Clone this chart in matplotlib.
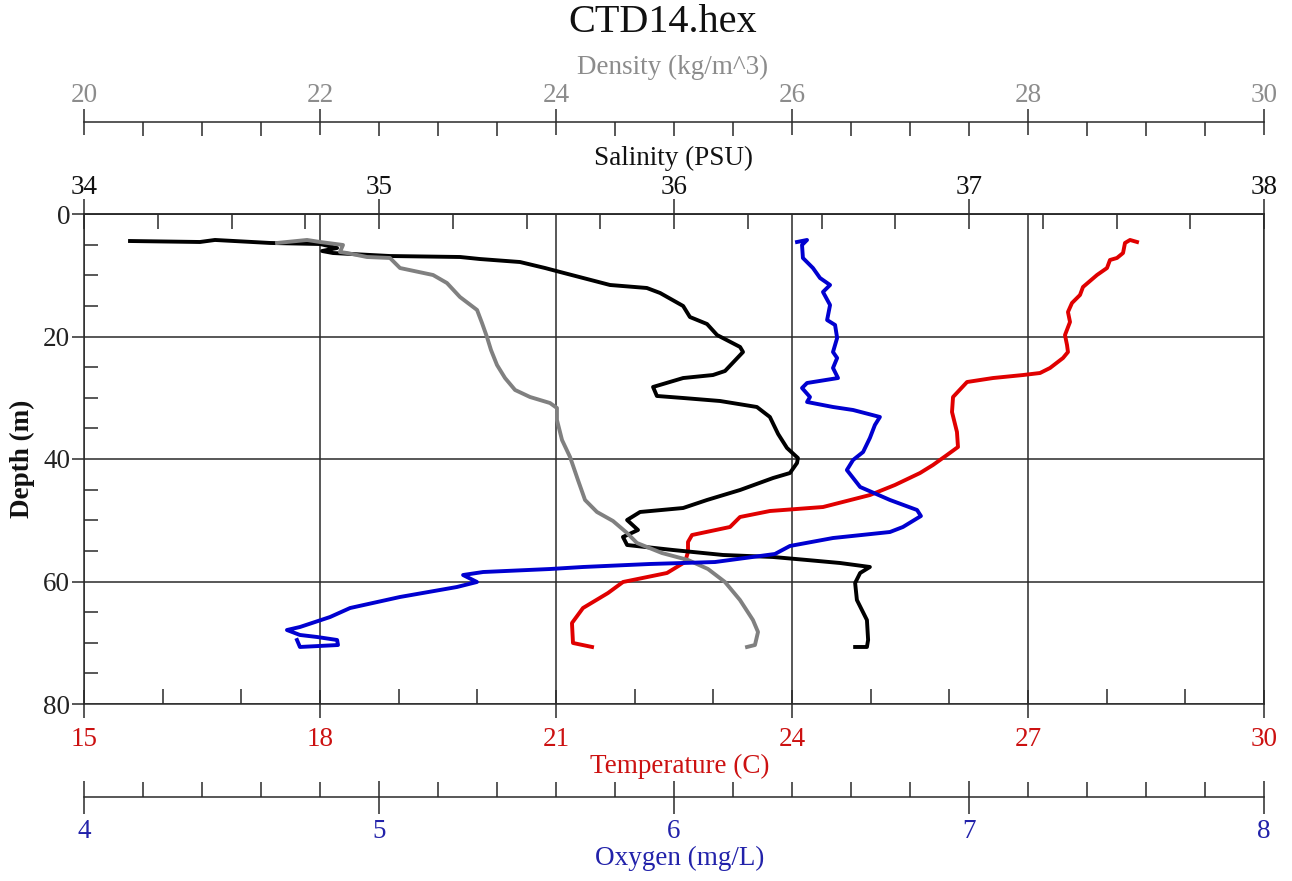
import matplotlib
matplotlib.use("Agg")
import matplotlib.pyplot as plt
from matplotlib.ticker import MultipleLocator

plt.rcParams['font.family'] = ['Liberation Serif', 'DejaVu Serif']

# ---------------- data ----------------
sal_depth = [4.41, 4.57, 4.24, 4.73, 4.90, 5.55, 6.04, 6.37, 6.86, 7.02, 7.35, 7.84, 8.82, 9.47,
             11.59, 12.08, 12.90, 15.02, 16.82, 17.96, 19.76, 21.71, 22.53, 25.63, 26.29, 26.78,
             28.24, 29.71, 30.04, 30.53, 31.51, 33.14, 35.92, 38.20, 39.84, 40.65, 42.29, 43.10,
             45.06, 46.69, 48.00, 48.65, 49.96, 51.59, 52.73, 54.04, 54.86, 55.67, 56.00, 56.49,
             56.98, 57.63, 58.61, 60.24, 63.02, 66.29, 69.55, 70.69, 70.69]
salinity = [34.156, 34.393, 34.444, 34.631, 34.800, 34.858, 34.807, 34.844, 35.037, 35.275, 35.342,
            35.478, 35.563, 35.614, 35.783, 35.908, 35.953, 36.031, 36.054, 36.112, 36.146, 36.224,
            36.234, 36.173, 36.132, 36.031, 35.929, 35.942, 36.031, 36.156, 36.281, 36.325, 36.353,
            36.383, 36.420, 36.417, 36.393, 36.336, 36.224, 36.112, 36.031, 35.885, 35.841, 35.878,
            35.827, 35.841, 35.997, 36.166, 36.336, 36.451, 36.563, 36.664, 36.631, 36.614, 36.620,
            36.654, 36.658, 36.654, 36.614]

den_depth = [4.73, 4.24, 4.57, 5.06, 6.20, 6.37, 7.02, 7.18, 8.82, 9.96, 11.27, 13.55, 15.67, 17.80,
             20.08, 22.20, 24.65, 26.78, 28.73, 29.88, 30.86, 31.67, 33.63, 36.90, 39.67, 43.43,
             46.69, 48.65, 50.12, 52.08, 53.71, 55.35, 56.49, 57.96, 60.08, 63.02, 66.29, 68.24,
             70.37, 70.69]
density = [21.636, 21.890, 22.000, 22.195, 22.169, 22.229, 22.398, 22.593, 22.678, 22.958, 23.076,
           23.186, 23.331, 23.373, 23.415, 23.449, 23.500, 23.568, 23.653, 23.780, 23.949, 24.008,
           24.008, 24.051, 24.119, 24.186, 24.246, 24.347, 24.483, 24.602, 24.686, 24.898, 25.119,
           25.288, 25.432, 25.559, 25.669, 25.712, 25.686, 25.619]

oxy_depth = [4.57, 4.24, 5.06, 7.18, 8.82, 10.45, 11.59, 12.73, 14.86, 17.31, 18.12, 20.24, 22.53,
             23.51, 25.14, 26.78, 27.59, 28.41, 29.88, 30.69, 31.51, 32.00, 33.14, 34.45, 36.57,
             38.86, 40.16, 41.80, 44.57, 46.69, 48.33, 49.31, 51.10, 51.92, 52.90, 54.20, 55.51,
             56.82, 57.14, 57.63, 57.96, 58.45, 58.94, 60.08, 60.90, 62.53, 64.33, 65.80, 67.43,
             67.92, 68.73, 69.06, 69.55, 70.37, 70.69, 69.55]
oxygen = [6.417, 6.451, 6.434, 6.437, 6.471, 6.495, 6.529, 6.505, 6.529, 6.519, 6.546, 6.553, 6.539,
          6.553, 6.539, 6.556, 6.451, 6.434, 6.461, 6.451, 6.539, 6.607, 6.698, 6.681, 6.664, 6.641,
          6.607, 6.586, 6.631, 6.732, 6.824, 6.837, 6.776, 6.732, 6.539, 6.393, 6.342, 6.139, 5.919,
          5.692, 5.580, 5.353, 5.285, 5.332, 5.264, 5.071, 4.902, 4.834, 4.732, 4.688, 4.732, 4.790,
          4.858, 4.861, 4.732, 4.722]

temp_depth = [4.57, 4.24, 4.73, 6.37, 7.18, 7.51, 8.82, 9.96, 11.92, 13.22, 14.53, 16.00, 17.63,
              19.76, 21.39, 22.53, 23.51, 25.14, 25.96, 26.29, 26.78, 27.43, 29.88, 32.33, 35.59,
              38.04, 39.35, 40.98, 42.29, 44.24, 45.88, 47.84, 48.49, 49.47, 51.10, 52.41, 53.55,
              55.18, 56.82, 58.61, 60.08, 61.88, 64.33, 66.78, 70.04, 70.69]
temperature = [28.386, 28.297, 28.233, 28.208, 28.131, 28.042, 28.004, 27.877, 27.699, 27.661,
               27.559, 27.508, 27.534, 27.470, 27.496, 27.508, 27.445, 27.280, 27.153, 26.936,
               26.555, 26.225, 26.047, 26.034, 26.097, 26.110, 25.970, 25.792, 25.627, 25.309,
               24.992, 24.394, 23.720, 23.339, 23.212, 22.729, 22.678, 22.678, 22.640, 22.411,
               21.852, 21.661, 21.343, 21.203, 21.216, 21.458]

title = "CTD14.hex"

# ---------------- layout ----------------
W, H = 1292, 881
L, R, T, B = 84, 1264, 214, 704
fig = plt.figure(figsize=(W / 100, H / 100), dpi=100)
ax = fig.add_axes([L / W, (H - B) / H, (R - L) / W, (B - T) / H])
AH = B - T
px = 0.72  # points per pixel

FS = 19.5
spine_c = '#2a2a2a'
grid_c = '#2a2a2a'
c_den = '#8c8c8c'
c_temp_txt = '#cc1111'
c_oxy_txt = '#2222aa'
lw = 2.8

# main axes: temperature (bottom) and depth (left)
ax.set_xlim(15, 30)
ax.set_ylim(80, 0)
ax.xaxis.set_major_locator(MultipleLocator(3))
ax.xaxis.set_minor_locator(MultipleLocator(1))
ax.yaxis.set_major_locator(MultipleLocator(20))
ax.yaxis.set_minor_locator(MultipleLocator(5))
ax.grid(True, which='major', color=grid_c, lw=1.1)
ax.set_axisbelow(True)
for s in ax.spines.values():
    s.set_color(spine_c)
    s.set_linewidth(1.1)
ax.tick_params(axis='x', which='major', direction='inout', length=28 * px, width=1.1,
               colors=spine_c, labelcolor=c_temp_txt, labelsize=FS, pad=9 * px)
ax.tick_params(axis='x', which='minor', direction='in', length=15 * px, width=1.1, colors=spine_c)
ax.tick_params(axis='y', which='major', direction='out', length=12 * px, width=1.1,
               colors=spine_c, labelcolor='#222222', labelsize=FS, pad=2 * px)
ax.tick_params(axis='y', which='minor', direction='in', length=14 * px, width=1.1, colors=spine_c)
ax.plot(temperature, temp_depth, color='#e00000', lw=lw, zorder=3)
ax.set_xlabel('Temperature (C)', fontsize=FS, color=c_temp_txt)
ax.xaxis.set_label_coords((680 - L) / (R - L), (B - 766) / AH)
ax.xaxis.label.set_va('center')
ax.set_ylabel('Depth (m)', fontsize=FS, color='#111111', fontweight='bold')
ax.yaxis.set_label_coords((22 - L) / (R - L), 0.5)
ax.yaxis.label.set_va('center')


def make_twin(pos_px, side):
    t = ax.twiny()
    for k, s in t.spines.items():
        s.set_visible(False)
    sp = t.spines[side]
    sp.set_visible(True)
    sp.set_color(spine_c)
    sp.set_linewidth(1.1)
    if side == 'top':
        sp.set_position(('axes', (B - pos_px) / AH))
        t.xaxis.set_ticks_position('top')
        t.xaxis.set_label_position('top')
    else:
        sp.set_position(('axes', (B - pos_px) / AH))
        t.xaxis.set_ticks_position('bottom')
        t.xaxis.set_label_position('bottom')
    return t


# salinity (top spine of plot)
ax_s = make_twin(T, 'top')
ax_s.set_xlim(34, 38)
ax_s.xaxis.set_major_locator(MultipleLocator(1))
ax_s.xaxis.set_minor_locator(MultipleLocator(0.25))
ax_s.tick_params(axis='x', which='major', direction='inout', length=30 * px, width=1.1,
                 colors=spine_c, labelcolor='#111111', labelsize=FS, pad=-1 * px)
ax_s.tick_params(axis='x', which='minor', direction='in', length=15 * px, width=1.1, colors=spine_c)
ax_s.plot(salinity, sal_depth, color='black', lw=lw, zorder=3)
ax_s.set_xlabel('Salinity (PSU)', fontsize=FS, color='#111111')
ax_s.xaxis.set_label_coords((673 - L) / (R - L), (B - 158) / AH)
ax_s.xaxis.label.set_va('center')

# density (separate top axis)
ax_d = make_twin(122, 'top')
ax_d.set_xlim(20, 30)
ax_d.xaxis.set_major_locator(MultipleLocator(2))
ax_d.xaxis.set_minor_locator(MultipleLocator(0.5))
ax_d.tick_params(axis='x', which='major', direction='inout', length=27 * px, width=1.1,
                 colors=spine_c, labelcolor=c_den, labelsize=FS, pad=0)
ax_d.tick_params(axis='x', which='minor', direction='in', length=14 * px, width=1.1, colors=spine_c)
ax_d.plot(density, den_depth, color='#808080', lw=lw, zorder=3)
ax_d.set_xlabel('Density (kg/m^3)', fontsize=FS, color=c_den)
ax_d.xaxis.set_label_coords((673 - L) / (R - L), (B - 67) / AH)
ax_d.xaxis.label.set_va('center')

# oxygen (separate bottom axis)
ax_o = make_twin(797, 'bottom')
ax_o.set_xlim(4, 8)
ax_o.xaxis.set_major_locator(MultipleLocator(1))
ax_o.xaxis.set_minor_locator(MultipleLocator(0.2))
ax_o.tick_params(axis='x', which='major', direction='inout', length=33 * px, width=1.1,
                 colors=spine_c, labelcolor=c_oxy_txt, labelsize=FS, pad=6 * px)
ax_o.tick_params(axis='x', which='minor', direction='in', length=15 * px, width=1.1, colors=spine_c)
ax_o.plot(oxygen, oxy_depth, color='#0000d0', lw=lw, zorder=3)
ax_o.set_xlabel('Oxygen (mg/L)', fontsize=FS, color=c_oxy_txt)
ax_o.xaxis.set_label_coords((680 - L) / (R - L), (B - 858) / AH)
ax_o.xaxis.label.set_va('center')

for a in (ax_s, ax_d, ax_o):
    a.set_ylim(80, 0)

fig.text(663 / W, 1 - 22 / H, title, fontsize=29, ha='center', va='center', color='#111111')

fig.savefig('out.png', dpi=100)
